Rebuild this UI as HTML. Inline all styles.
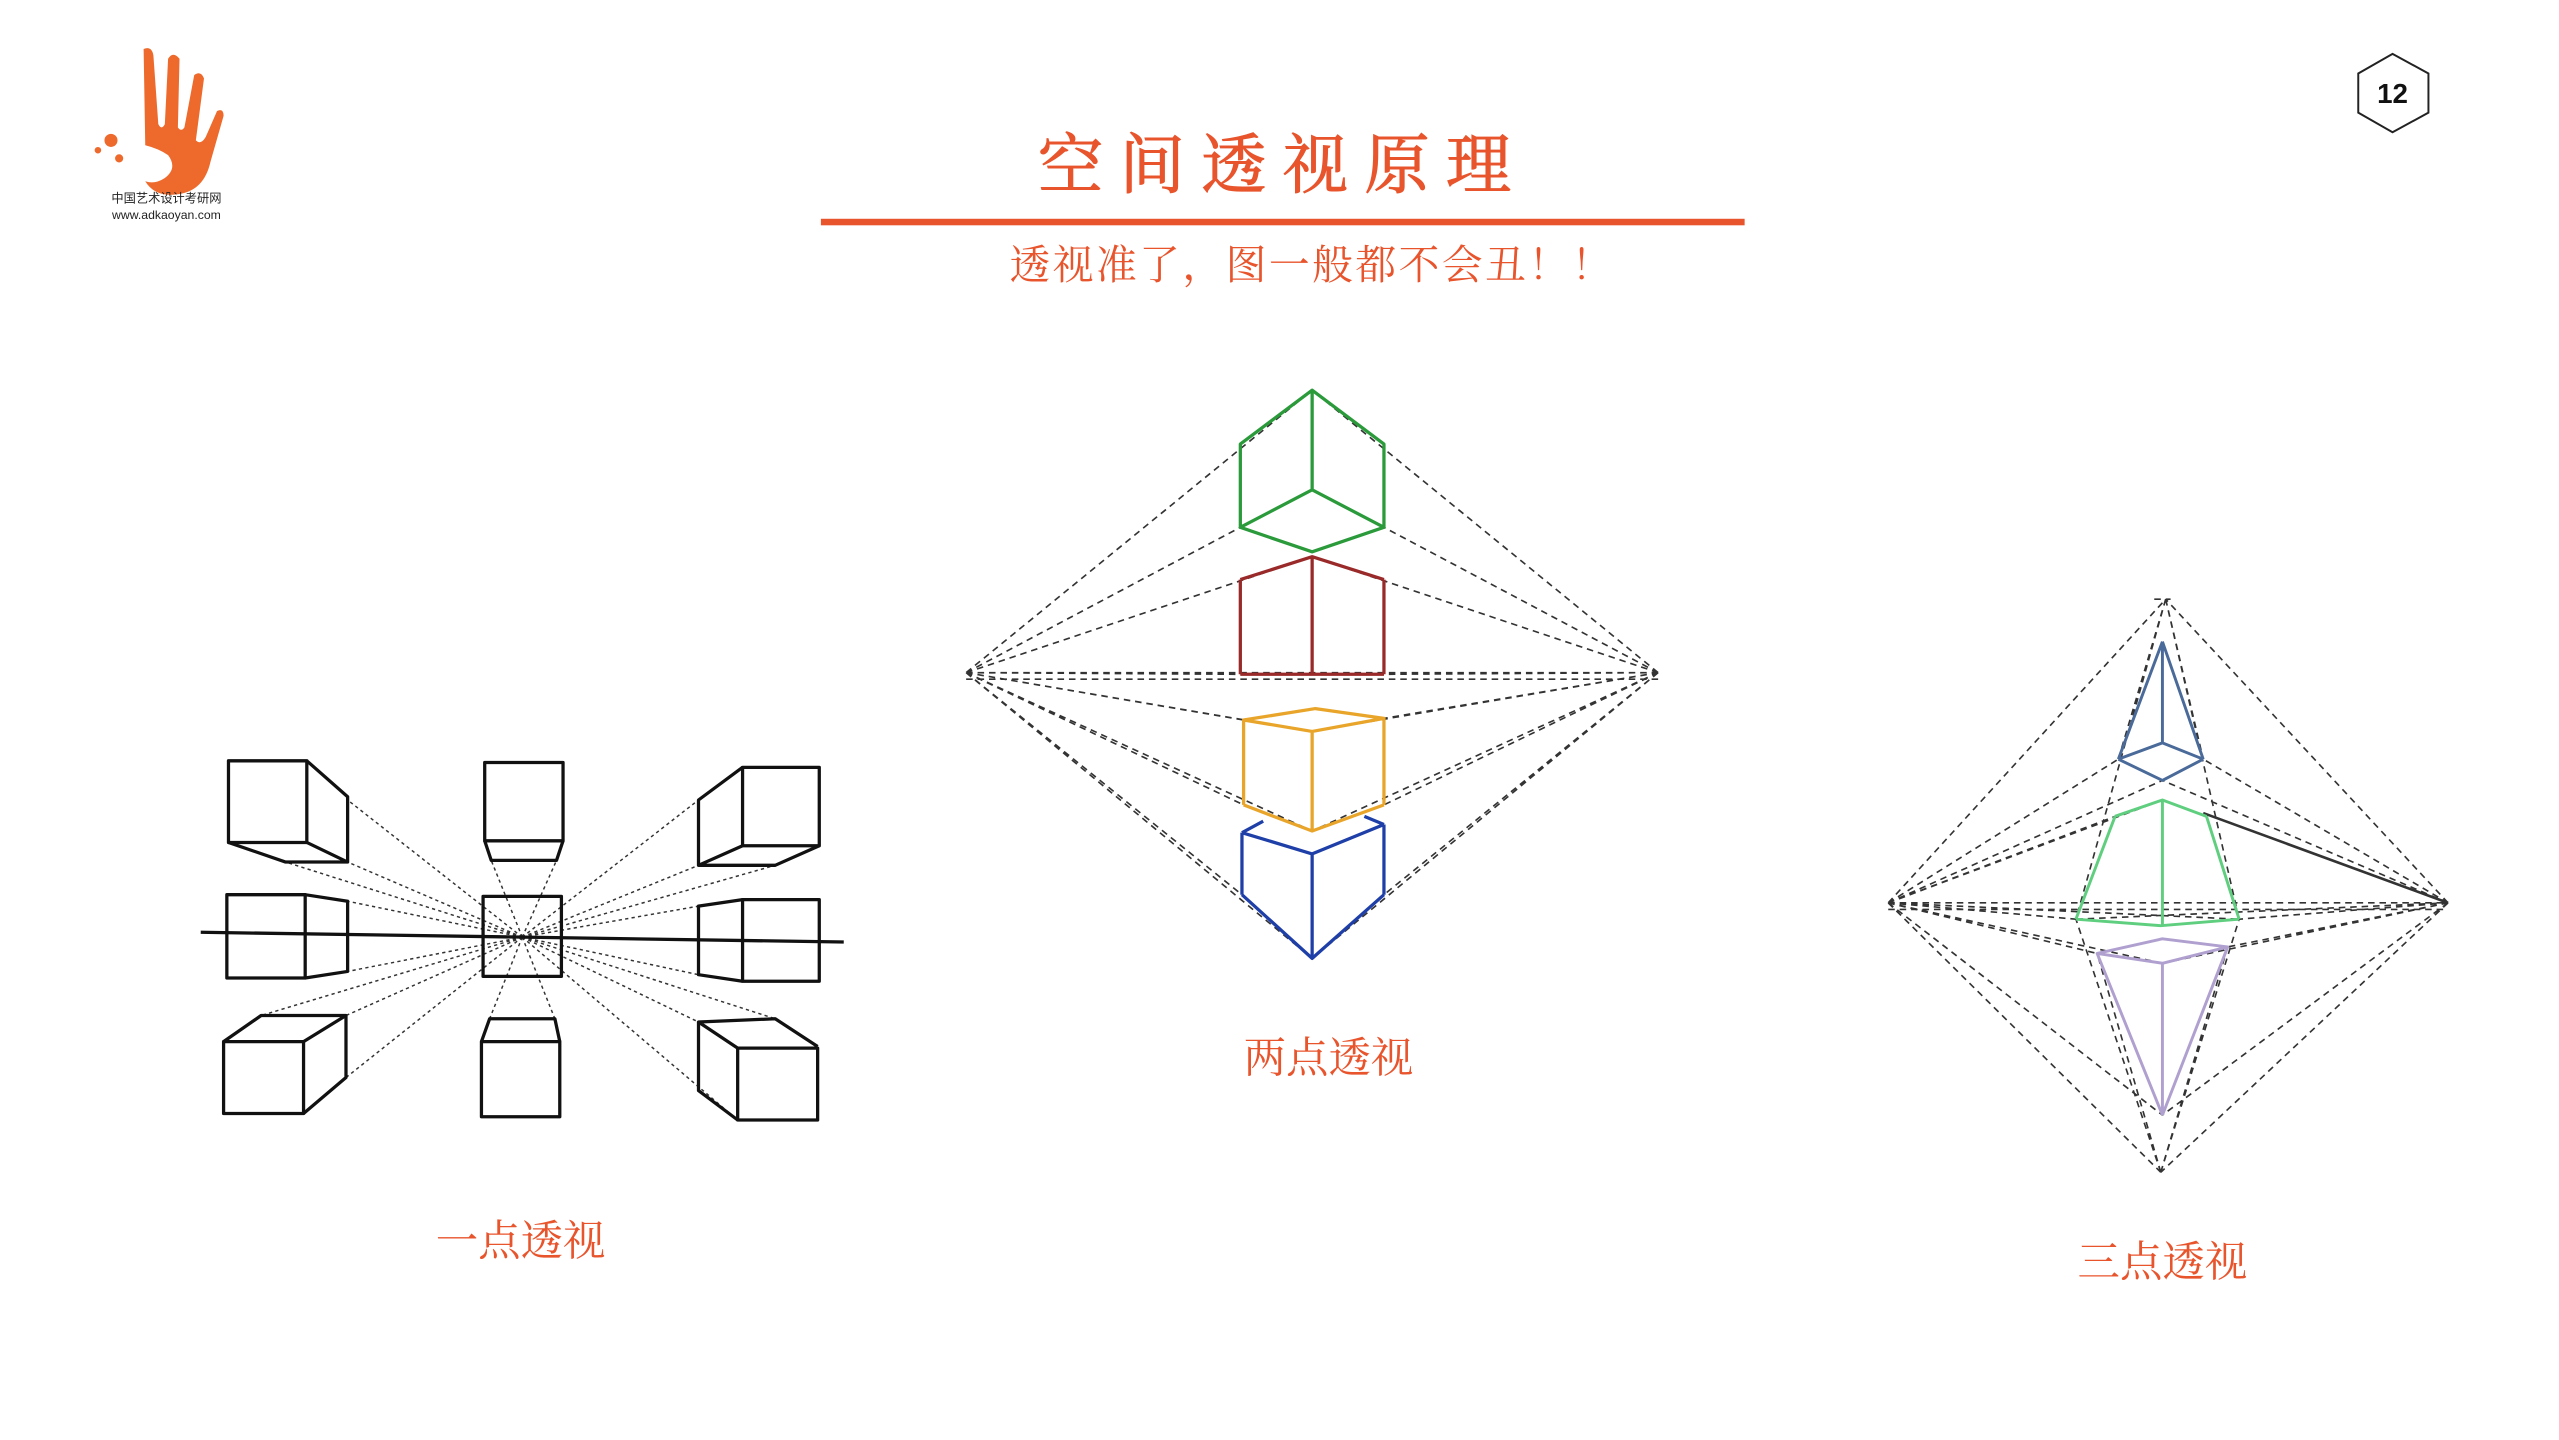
<!DOCTYPE html>
<html><head><meta charset="utf-8"><style>
html,body{margin:0;padding:0;background:#fff;}
svg{display:block}
</style></head><body>
<svg width="2559" height="1440" viewBox="0 0 1568 882" preserveAspectRatio="none" xmlns="http://www.w3.org/2000/svg">
<rect width="1568" height="882" fill="#fff"/>
<!-- logo -->
<g fill="#ee6a2c">
<path d="M88 30 q5 -2 6 4 l3 42 q2 4 4 0 l2 -40 q3 -5 7 0 l-1 42 q2 3 4 0 l6 -32 q4 -3 6 2 l-5 38 q3 3 6 -2 l7 -16 q4 -2 4 3 l-8 28 q-4 18 -20 20 q-14 2 -20 -8 q6 2 12 -2 q8 -6 2 -14 q-6 -4 -14 -6 z"/>
<circle cx="68" cy="86" r="4"/><circle cx="60" cy="92" r="2"/><circle cx="73" cy="97" r="2.5"/>
</g>
<text x="102" y="124" font-size="7.5" text-anchor="middle" font-family="Liberation Sans, Noto Sans CJK SC, sans-serif" fill="#222">中国艺术设计考研网</text>
<text x="102" y="134" font-size="7.5" text-anchor="middle" font-family="Liberation Sans, sans-serif" fill="#222">www.adkaoyan.com</text>
<!-- page number -->
<polygon points="1466,33 1488,45 1488,69 1466,81 1445,69 1445,45" fill="#fff" stroke="#222" stroke-width="1.2"/>
<text x="1466" y="63" font-size="17" font-weight="bold" text-anchor="middle" font-family="Liberation Sans, sans-serif" fill="#111">12</text>
<!-- title -->
<text x="786" y="115" font-size="40" letter-spacing="10" text-anchor="middle" font-family="Liberation Serif, Noto Serif CJK SC, serif" fill="#e8542c" stroke="#e8542c" stroke-width="0.6">空间透视原理</text>
<rect x="503" y="134" width="566" height="4" fill="#e8542c"/>
<text x="804" y="171" font-size="25" letter-spacing="1.5" text-anchor="middle" font-family="Liberation Serif, Noto Serif CJK SC, serif" fill="#e8542c">透视准了，图一般都不会丑！！</text>
<g font-size="26" text-anchor="middle" font-family="Liberation Serif, Noto Serif CJK SC, serif" fill="#e8542c">
<text x="319" y="769">一点透视</text>
<text x="814" y="657">两点透视</text>
<text x="1325" y="782">三点透视</text>
</g>

<!-- ONE POINT -->
<g stroke="#333" stroke-width="0.9" stroke-dasharray="2,2" fill="none">
<path d="M320 574L213 490M320 574L175 528M320 574L213 528M320 574L213 552M320 574L213 595M320 574L160 622M320 574L212 622M320 574L212 660
M320 574L428 490M320 574L428 530M320 574L475 530M320 574L428 555M320 574L428 597M320 574L428 626M320 574L475 624M320 574L452 686
M320 574L301 527M320 574L341 527M320 574L300 624M320 574L340 624"/>
</g>
<g stroke="#111" stroke-width="2" fill="none" stroke-linejoin="round">
<path d="M123 571L517 577"/>
<rect x="296" y="549" width="48" height="49"/>
<rect x="140" y="466" width="48" height="50"/><path d="M188 466L213 488L213 528L188 516M140 516L175 528L213 528"/>
<rect x="297" y="467" width="48" height="48"/><path d="M297 515L301 527L341 527L345 515"/>
<rect x="455" y="470" width="47" height="48"/><path d="M455 470L428 490L428 530L455 518M428 530L475 530L502 518"/>
<rect x="139" y="548" width="48" height="51"/><path d="M187 548L213 552L213 595L187 599"/>
<rect x="455" y="551" width="47" height="50"/><path d="M455 551L428 555L428 597L455 601"/>
<rect x="137" y="638" width="49" height="44"/><path d="M137 638L160 622L212 622L186 638M212 622L212 660L186 682"/>
<rect x="295" y="638" width="48" height="46"/><path d="M295 638L300 624L340 624L343 638"/>
<rect x="452" y="642" width="49" height="44"/><path d="M452 642L428 626L475 624L501 641M428 626L428 668L452 686"/>
</g>

<!-- TWO POINT -->
<g stroke="#333" stroke-width="1" stroke-dasharray="4,3" fill="none">
<path d="M592 412L804 239M592 412L760 323M592 412L804 341M592 412L760 413M592 412L848 413M592 412L762 441M592 412L804 448M592 412L762 493M592 412L804 509M592 412L761 548M592 412L804 587M592 412L1016 412
M1016 412L804 239M1016 412L848 323M1016 412L804 341M1016 412L760 413M1016 412L848 413M1016 412L848 440M1016 412L804 448M1016 412L848 493M1016 412L804 509M1016 412L848 548M1016 412L804 587M592 416L1016 416"/>
</g>
<g fill="none" stroke-width="2" stroke-linejoin="round">
<path stroke="#2a9a3a" d="M804 239L848 272L848 323L804 338L760 323L760 272Z M804 239L804 300M760 323L804 300L848 323"/>
<path stroke="#9a2a2a" d="M760 355L804 341L848 355M760 355L760 413M804 341L804 413M848 355L848 413M760 413L848 413"/>
<path stroke="#e8a52a" d="M762 441L806 434L848 440L804 448ZM762 441L762 493M848 440L848 493M804 448L804 509M762 493L804 509L848 493"/>
<path stroke="#1f3fa8" d="M761 510L804 523L848 505M761 510L761 548M848 505L848 548M804 523L804 587M761 548L804 587L848 548M761 510L774 503M848 505L836 500"/>
</g>

<!-- THREE POINT -->
<g stroke="#333" stroke-width="1" stroke-dasharray="4,3" fill="none">
<path d="M1157 553L1327 367M1157 553L1324 718M1500 553L1327 367M1500 553L1324 718
M1157 553L1298 465M1157 553L1325 478M1157 553L1296 500M1157 553L1325 490M1157 553L1272 563M1157 553L1372 563M1157 553L1285 584M1157 553L1325 590M1157 553L1325 683M1157 553L1500 553M1157 557L1500 557
M1500 553L1350 465M1500 553L1325 478M1500 553L1356 500M1500 553L1372 563M1500 553L1272 563M1500 553L1365 580M1500 553L1325 590M1500 553L1325 683
M1327 367L1298 465M1327 367L1350 465M1327 367L1272 563M1327 367L1372 563M1324 718L1285 584M1324 718L1365 580M1324 718L1272 563M1324 718L1372 563M1320 367L1330 367"/>
</g>
<path d="M1350 498L1500 553" stroke="#333" stroke-width="1.6"/>
<g fill="none" stroke-width="1.8" stroke-linejoin="round">
<path stroke="#4a6a9a" d="M1325 393L1298 465M1325 393L1350 465M1325 393L1325 455M1298 465L1325 455L1350 465M1298 465L1325 478L1350 465"/>
<path stroke="#5fcf7f" d="M1296 500L1325 490L1352 500M1296 500L1272 563M1352 500L1372 563M1325 490L1325 567M1272 563L1324 567L1372 563"/>
<path stroke="#b0a0d0" d="M1285 584L1325 575L1365 580L1325 590ZM1285 584L1325 683M1365 580L1325 683M1325 590L1325 683"/>
</g>
</svg>
</body></html>
